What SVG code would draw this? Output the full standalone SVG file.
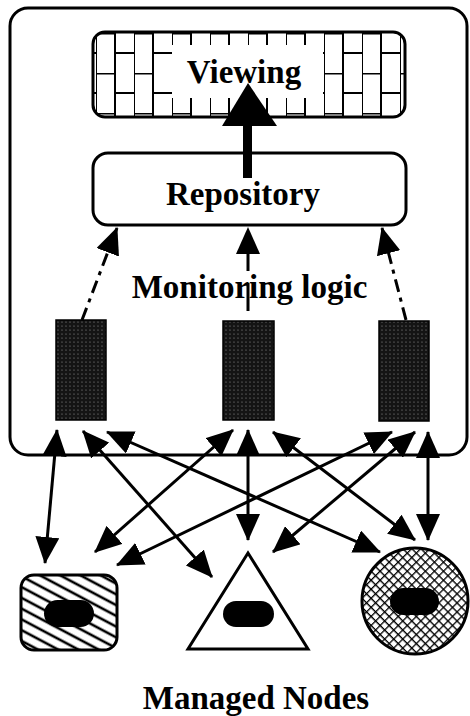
<svg xmlns="http://www.w3.org/2000/svg" width="470" height="716" viewBox="0 0 470 716">
<style>
.lbl{font-family:"Liberation Serif","Times New Roman",serif;font-weight:bold;font-size:33px;fill:#000;text-anchor:middle}
.box{fill:#fff;stroke:#000;stroke-width:3}
.con{stroke:#000;stroke-width:3;fill:none;marker-start:url(#ah);marker-end:url(#ah)}
.dd{stroke:#000;stroke-width:3;fill:none;marker-end:url(#ah)}
.agent{fill:url(#dots);stroke:#000;stroke-width:1.5}
.pill{fill:#000}
</style>
<defs>
<marker id="ah" viewBox="0 0 27 24" refX="26" refY="12" markerWidth="27" markerHeight="24" orient="auto-start-reverse" markerUnits="userSpaceOnUse">
<path d="M0,0 L27,12 L0,24 z" fill="#000"/>
</marker>
<pattern id="brick" patternUnits="userSpaceOnUse" x="96" y="33" width="38" height="40">
<rect width="38" height="40" fill="#fff"/>
<path d="M0,0 V40 M19,0 V40 M0,0.5 H19 M19,20 H38" stroke="#000" stroke-width="2" fill="none"/>
</pattern>
<pattern id="dots" patternUnits="userSpaceOnUse" width="4" height="4">
<rect width="4" height="4" fill="#141414"/>
<circle cx="2" cy="2" r="0.6" fill="#9a9a9a"/>
</pattern>
<pattern id="hatch" patternUnits="userSpaceOnUse" width="9.5" height="9.5" patternTransform="rotate(28)">
<rect width="9.5" height="9.5" fill="#fff"/>
<path d="M0,4.75 H9.5" stroke="#000" stroke-width="2.6"/>
</pattern>
<pattern id="cross" patternUnits="userSpaceOnUse" width="6.4" height="6.4" patternTransform="rotate(45)">
<rect width="6.4" height="6.4" fill="#fff"/>
<path d="M0,0 H6.4 M0,0 V6.4" stroke="#000" stroke-width="2.6"/>
</pattern>
<clipPath id="vclip"><rect x="93" y="32" width="312" height="85" rx="12"/></clipPath>
</defs>

<g id="system-frame">
<rect x="10" y="8" width="457" height="447" rx="18" fill="none" stroke="#000" stroke-width="3"/>
</g>

<g id="viewing">
<g clip-path="url(#vclip)">
<rect x="93" y="32" width="312" height="85" fill="url(#brick)"/>
<rect x="172" y="45" width="151" height="53" fill="#fff"/>
</g>
<rect x="93" y="32" width="312" height="85" rx="12" fill="none" stroke="#000" stroke-width="3"/>
<text class="lbl" x="244" y="83">Viewing</text>
</g>

<g id="repository">
<rect class="box" x="93" y="153" width="313" height="72" rx="15"/>
<text class="lbl" x="243" y="205">Repository</text>
</g>

<g id="monitoring-logic">
<text class="lbl" x="249.5" y="298">Monitoring logic</text>
<rect id="agent-1" class="agent" x="56" y="320" width="50" height="100"/>
<rect id="agent-2" class="agent" x="223" y="321" width="51" height="99"/>
<rect id="agent-3" class="agent" x="379" y="321" width="50" height="100"/>
</g>

<g id="node-rect">
<rect x="21" y="575" width="96" height="75" rx="13" fill="url(#hatch)" stroke="#000" stroke-width="3"/>
<rect class="pill" x="44" y="600" width="50" height="27" rx="13.5"/>
</g>

<g id="node-triangle">
<polygon points="248,553 188,649 308,649" fill="#fff" stroke="#000" stroke-width="3"/>
<rect class="pill" x="223" y="601" width="51" height="26" rx="13"/>
</g>

<g id="node-circle">
<circle cx="415" cy="601" r="53" fill="url(#cross)" stroke="#000" stroke-width="3"/>
<rect class="pill" x="390" y="588" width="49" height="27" rx="13.5"/>
</g>

<g id="managed-nodes-label">
<text class="lbl" x="256" y="709">Managed Nodes</text>
</g>

<g id="connectors">
<rect x="243" y="124" width="9" height="54" fill="#000"/>
<polygon points="222,126 277,126 248,83" fill="#000"/>
<line class="dd" x1="82" y1="320" x2="117" y2="228" stroke-dasharray="13 6 4 6"/>
<line class="dd" x1="248" y1="321" x2="248" y2="228" stroke-dasharray="0 10 28 12 17 100"/>
<line class="dd" x1="406" y1="320" x2="382" y2="228" stroke-dasharray="13 6 4 6"/>
<line class="con" x1="57" y1="430" x2="45" y2="563"/>
<line class="con" x1="83" y1="431" x2="212" y2="577"/>
<line class="con" x1="107" y1="432" x2="380" y2="552"/>
<line class="con" x1="233" y1="430" x2="95" y2="552"/>
<line class="con" x1="248" y1="430" x2="248" y2="540"/>
<line class="con" x1="273" y1="432" x2="415" y2="540"/>
<line class="con" x1="392" y1="432" x2="117" y2="565"/>
<line class="con" x1="415" y1="432" x2="273" y2="552"/>
<line class="con" x1="428" y1="432" x2="428" y2="540"/>
</g>
</svg>
